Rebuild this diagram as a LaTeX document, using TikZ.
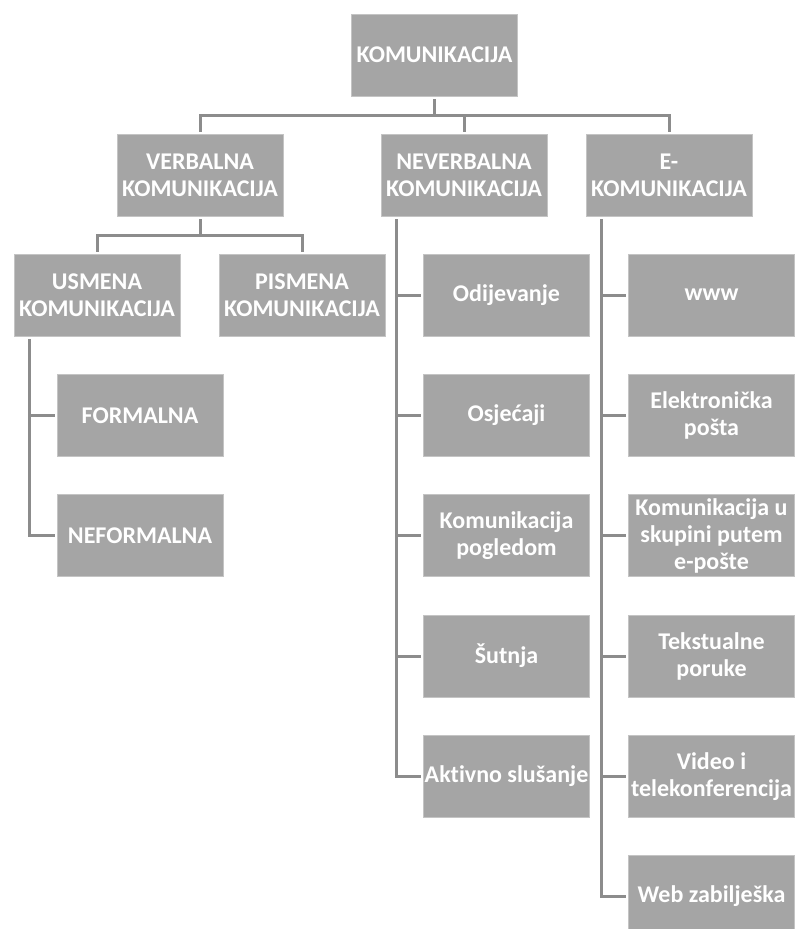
\documentclass[tikz,border=0pt]{standalone}
\usepackage{fontspec}
\setmainfont{Carlito}[Ligatures=NoCommon]
\usetikzlibrary{calc}
\definecolor{boxgray}{HTML}{A5A5A5}
\definecolor{boxedge}{HTML}{C4C4C4}
\definecolor{linegray}{HTML}{8C8C8C}
\tikzset{
	box/.style={fill=boxgray,draw=boxedge,line width=0.8pt,minimum width=166pt,minimum height=82pt,
		inner sep=0pt,align=center,text=white,font=\bfseries\fontsize{24}{27}\selectfont},
	conn/.style={draw=linegray,line width=3pt,shorten <=3pt,shorten >=2pt}
}
\begin{document}
\begin{tikzpicture}[x=1pt,y=-1pt]
	\useasboundingbox (0,0) rectangle (795,929);
		\node[box] at (434.5,55)(kom){KOMUNIKACIJA};
		\node[box] at (200,175)(verb){VERBALNA\\KOMUNIKACIJA};
		\node[box] at (464,175)(neverb){NEVERBALNA\\KOMUNIKACIJA};
		\node[box] at (669,175)(ekom){E-\\KOMUNIKACIJA};
		\coordinate (hub) at (434.5,115.5);
		\draw[conn] (kom.south) -- (hub) -| (verb.north);
		\draw[conn,shorten <=0pt] (hub) -| (neverb.north);
		\draw[conn,shorten <=0pt] (hub) -| (ekom.north);

	% verbalna
		\node[box] at (97,295)(usm){USMENA\\KOMUNIKACIJA};
		\node[box] at (302,295)(pism){PISMENA\\KOMUNIKACIJA};
		\coordinate (vhub) at (200,235);
		\draw[conn] (verb.south) -- (vhub) -| (usm.north);
		\draw[conn,shorten <=0pt] (vhub) -| (pism.north);
		\node[box] at (140,415.3)(form){FORMALNA};
		\node[box] at (140,535.6)(neform){NEFORMALNA};
		\coordinate (usp) at ($(usm.south west)+(15.5,0)$);
		\draw[conn] (usp) |- (form.west);
		\draw[conn] (usp) |- (neform.west);

	% neverbalna
		\node[box] at (506.5,295)(odij){Odijevanje};
		\node[box] at (506.5,415.3)(osj){Osjećaji};
		\node[box] at (506.5,535.6)(pogl){Komunikacija\\pogledom};
		\node[box] at (506.5,656)(sut){Šutnja};
		\node[box] at (506.5,776.2)(slus){Aktivno slušanje};
		\coordinate (nsp) at ($(neverb.south west)+(15.5,0)$);
		\foreach \n in {odij,osj,pogl,sut,slus}
			\draw[conn] (nsp) |- (\n.west);

	% e-komunikacija
		\node[box] at (711.5,295)(www){www};
		\node[box] at (711.5,415.3)(epos){Elektronička\\pošta};
		\node[box] at (711.5,535.6)(skup){Komunikacija u\\skupini putem\\e-pošte};
		\node[box] at (711.5,656)(tekst){Tekstualne\\poruke};
		\node[box] at (711.5,776.2)(video){Video i\\telekonferencija};
		\node[box] at (711.5,896.5)(webz){Web zabilješka};
		\coordinate (esp) at ($(ekom.south west)+(15.5,0)$);
		\foreach \n in {www,epos,skup,tekst,video,webz}
			\draw[conn] (esp) |- (\n.west);
\end{tikzpicture}
\end{document}
